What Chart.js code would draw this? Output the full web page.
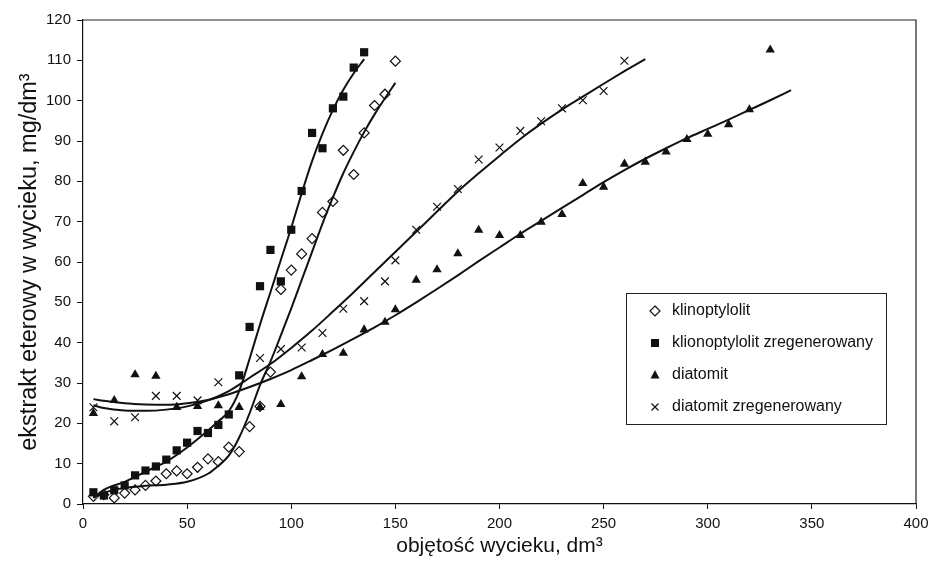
<!DOCTYPE html>
<html>
<head>
<meta charset="utf-8">
<script src="https://cdn.jsdelivr.net/npm/chart.js@4/dist/chart.umd.min.js"></script>
<style>
html,body{margin:0;padding:0;background:#fff}
#wrap{width:931px;height:576px;position:relative}
</style>
</head>
<body>
<div id="wrap"><canvas id="c"></canvas></div>
<script>
// measured points, x = objetosc wycieku [dm3], y = ekstrakt [mg/dm3]
const klinX=[5,10,15,20,25,30,35,40,45,50,55,60,65,70,75,80,85,90,95,100,105,110,115,120,125,130,135,140,145,150];
const klinY=[1.9,2.3,1.5,2.7,3.5,4.6,5.7,7.5,8.2,7.5,9.1,11.2,10.5,14.1,13,19.2,24.2,32.7,53.2,58,62,65.8,72.3,75,87.7,81.7,92,98.8,101.6,109.8];

const regX=[5,10,15,20,25,30,35,40,45,50,55,60,65,70,75,80,85,90,95,100,105,110,115,120,125,130,135];
const regY=[2.9,2.1,3.4,4.6,7.1,8.3,9.3,11,13.3,15.2,18.1,17.6,19.6,22.2,31.9,43.9,54,63,55.2,68,77.6,92,88.2,98.1,101,108.2,112];

const diaX=[5,15,25,35,45,55,65,75,85,95,105,115,125,135,145,150,160,170,180,190,200,210,220,230,240,250,260,270,280,290,300,310,320,330];
const diaY=[22.5,25.7,32.1,31.7,24,24.2,24.4,24,24,24.7,31.6,37.1,37.4,43.2,45.1,48.2,55.5,58.1,62.1,67.9,66.6,66.6,69.9,71.8,79.5,78.6,84.3,84.8,87.3,90.4,91.7,94.1,97.8,112.6];

const dzrX=[5,15,25,35,45,55,65,85,95,105,115,125,135,145,150,160,170,180,190,200,210,220,230,240,250,260];
const dzrY=[24,20.5,21.5,26.8,26.8,25.7,30.2,36.2,38.4,38.8,42.4,48.4,50.3,55.2,60.4,68,73.7,78.1,85.4,88.4,92.5,94.9,98.1,100.1,102.4,109.9];

// trend lines
const klinFitX=[5,10,20,30,40,50,60,65,70,75,80,85,90,95,100,105,110,115,120,125,130,135,140,145,150];
const klinFitY=[1.7,2.8,4,4.5,4.8,5.5,7.5,9.5,12,16.5,22.5,29.5,35.3,41.8,48.5,55.5,62.5,69.5,76,82,87.3,92.2,96.6,100.6,104.4];

const regFitX=[5,10,20,30,40,50,60,65,70,75,80,85,90,95,100,105,110,115,120,125,130,135];
const regFitY=[1.5,3.5,5.5,8,10.5,14,18.2,20.5,23,28,36,44.5,52.5,60.5,68.5,77,85,91.8,97.7,102.7,106.8,110.3];

const diaFitX=[5,10,20,30,40,50,60,70,80,90,100,110,120,130,140,150,160,170,180,190,200,210,220,230,240,250,260,270,280,290,300,310,320,330,340];
const diaFitY=[26,25.6,25,24.7,24.6,25,25.8,27.2,29,31,33.2,35.7,38.3,41,43.8,46.8,50,53.3,56.7,60.2,63.6,67,70.2,73.4,76.6,79.8,82.8,85.6,88.2,90.7,93,95.3,97.7,100.1,102.6];

const dzrFitX=[5,10,20,30,40,50,60,70,80,90,100,110,120,130,140,150,160,170,180,190,200,210,220,230,240,250,260,270];
const dzrFitY=[24.5,23.8,23.2,23.1,23.4,24.2,25.7,28,31.3,34.7,38.7,43,47.7,52.5,57.5,62.5,67.5,72.5,77.5,82,86.3,90.5,94.3,97.8,101,104.2,107.3,110.3];

const legendNames=["klinoptylolit","klionoptylolit zregenerowany","diatomit","diatomit zregenerowany"];

const FONT='"Liberation Sans", Arial, sans-serif';

function pts(xs,ys){return xs.map((x,i)=>({x:x,y:ys[i]}));}

function fitLine(xs,ys){
  return {type:"line",data:pts(xs,ys),borderColor:"#111",borderWidth:2,pointRadius:0,
    fill:false,cubicInterpolationMode:"monotone",order:2};
}

function drawMark(ctx,kind,x,y){
  ctx.save();
  ctx.fillStyle="#111";ctx.strokeStyle="#111";ctx.lineWidth=1.2;
  ctx.beginPath();
  if(kind==="diamond"){
    ctx.moveTo(x,y-5);ctx.lineTo(x+5,y);ctx.lineTo(x,y+5);ctx.lineTo(x-5,y);ctx.closePath();ctx.stroke();
  }else if(kind==="square"){
    ctx.rect(x-4,y-4,8,8);ctx.fill();
  }else if(kind==="triangle"){
    ctx.moveTo(x,y-5);ctx.lineTo(x+4.5,y+3.5);ctx.lineTo(x-4.5,y+3.5);ctx.closePath();ctx.fill();
  }else{
    ctx.moveTo(x-3.5,y-3.5);ctx.lineTo(x+3.5,y+3.5);ctx.moveTo(x+3.5,y-3.5);ctx.lineTo(x-3.5,y+3.5);ctx.stroke();
  }
  ctx.restore();
}

const boxPlugin={
  id:"boxPlugin",
  afterDraw(chart){
    const ctx=chart.ctx, a=chart.chartArea;
    ctx.save();
    ctx.strokeStyle="#222";ctx.lineWidth=1.2;
    ctx.beginPath();
    ctx.moveTo(a.left,a.top);ctx.lineTo(a.right,a.top);ctx.lineTo(a.right,a.bottom);
    ctx.stroke();
    // legend box
    ctx.lineWidth=1;
    ctx.strokeRect(626.5,293.5,260,131);
    const kinds=["diamond","square","triangle","cross"];
    ctx.font="16px "+FONT;ctx.fillStyle="#111";ctx.textBaseline="middle";ctx.textAlign="left";
    legendNames.forEach((n,i)=>{
      const y=311+i*32;
      drawMark(ctx,kinds[i],655,y);
      ctx.fillText(n,672,y);
    });
    ctx.restore();
  }
};

new Chart(document.getElementById("c"),{
  type:"scatter",
  data:{datasets:[
    {label:legendNames[0],data:pts(klinX,klinY),pointStyle:"rectRot",pointRadius:5,pointBorderWidth:1.2,
      pointBorderColor:"#111",pointBackgroundColor:"rgba(0,0,0,0)",order:1},
    {label:legendNames[1],data:pts(regX,regY),pointStyle:"rect",pointRadius:5.8,pointBorderWidth:0,
      pointBorderColor:"#111",pointBackgroundColor:"#111",order:1},
    {label:legendNames[2],data:pts(diaX,diaY),pointStyle:"triangle",pointRadius:5.4,pointBorderWidth:0,
      pointBorderColor:"#111",pointBackgroundColor:"#111",order:1},
    {label:legendNames[3],data:pts(dzrX,dzrY),pointStyle:"crossRot",pointRadius:5.5,pointBorderWidth:1.2,
      pointBorderColor:"#111",pointBackgroundColor:"#111",order:1},
    fitLine(klinFitX,klinFitY),
    fitLine(regFitX,regFitY),
    fitLine(diaFitX,diaFitY),
    fitLine(dzrFitX,dzrFitY)
  ]},
  options:{
    responsive:true,
    maintainAspectRatio:false,
    animation:false,
    layout:{padding:{top:20,right:15,left:0,bottom:0}},
    plugins:{legend:{display:false},tooltip:{enabled:false}},
    scales:{
      x:{
        type:"linear",min:0,max:400,
        ticks:{stepSize:50,color:"#111",font:{family:FONT,size:15},padding:6,maxRotation:0},
        grid:{display:true,drawOnChartArea:false,drawTicks:true,tickLength:5,color:"#111"},
        border:{display:true,color:"#111",width:1.2},
        title:{display:true,text:"objętość wycieku, dm³",color:"#111",font:{family:FONT,size:21},padding:{top:0,bottom:17}},
        afterFit(s){s.height=72;s.paddingLeft=0;s.paddingRight=0;}
      },
      y:{
        min:0,max:120,
        ticks:{stepSize:10,color:"#111",font:{family:FONT,size:15},padding:6},
        grid:{display:true,drawOnChartArea:false,drawTicks:true,tickLength:6,color:"#111"},
        border:{display:true,color:"#111",width:1.2},
        title:{display:true,text:"ekstrakt eterowy w wycieku, mg/dm³",color:"#111",font:{family:FONT,size:23.5},padding:{top:15,bottom:0}},
        afterFit(s){s.width=83;s.paddingTop=0;s.paddingBottom=0;}
      }
    }
  },
  plugins:[boxPlugin]
});
</script>
</body>
</html>
